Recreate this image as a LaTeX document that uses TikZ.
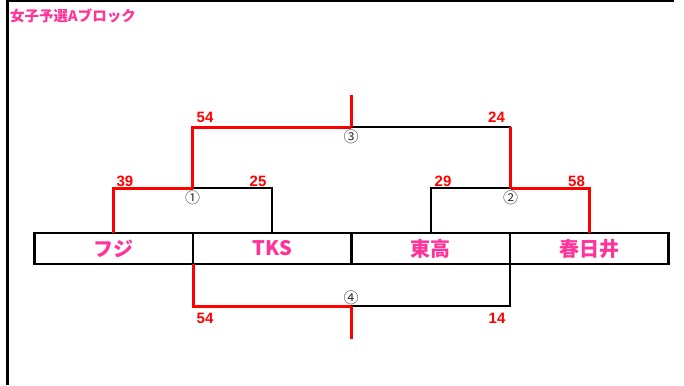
\documentclass[tikz,border=0pt]{standalone}
\usepackage{fontspec}
\setmainfont{Liberation Sans}
\newfontfamily\jp{Noto Sans CJK JP}
\definecolor{pinktext}{HTML}{FF3399}
\definecolor{winred}{HTML}{FF0000}
\tikzset{
  cell/.style={draw=black, line width=2.5pt, minimum width=158.5pt, minimum height=31pt, inner sep=0pt, outer sep=0pt, text=pinktext, font=\jp\bfseries\fontsize{20}{20}\selectfont},
  win/.style={draw=winred, line width=3pt},
  lose/.style={draw=black, line width=1.8pt},
  loseth/.style={draw=black, line width=1.2pt},
  score/.style={text=winred, font=\bfseries\fontsize{15}{15}\selectfont, inner sep=0pt},
  circnum/.style={text=black!80, font=\jp\fontsize{15}{15}\selectfont, inner sep=0pt},
  frame/.style={draw=black, line width=3pt}
}
\begin{document}
\begin{tikzpicture}[x=1pt,y=-1pt]
\useasboundingbox (0,0) rectangle (684,385);
% frame
\draw[frame] (7,0) -- (7,385);
\draw[frame] (5.5,1) -- (674,1);
% title
\node[anchor=west, text=pinktext, inner sep=0pt, font=\jp\bfseries\fontsize{14.5}{14.5}\selectfont] (title) at (10,16) {女子予選Aブロック};
% team cells
\node[cell] (c1) at (113.75,248.5) {フジ};
\node[cell] (c2) at (272.25,248.5) {TKS};
\node[cell] (c3) at (430.75,248.5) {東高};
\node[cell] (c4) at (589.25,248.5) {春日井};
% junction coordinates
\coordinate (m1) at (192.5,188);
\coordinate (m2) at (510.5,188);
\coordinate (m3L) at (192.5,127);
\coordinate (m3) at (351,127);
\coordinate (m3R) at (510.5,127);
\coordinate (top) at (351,95);
\coordinate (m4) at (351,306);
\coordinate (bot) at (351,339);
% match 1
\draw[lose] (m1) -| (c2.north);
\draw[win] (c1.north) |- (m1);
% match 2
\draw[lose] (c3.north) |- (m2);
\draw[win] (m2) -| (c4.north);
% match 3
\draw[loseth] (m3) -- (m3R);
\draw[win] (m3R) -- (m2);
\draw[win] (m1) -- (m3L) -- (m3);
\draw[win] (m3) -- (top);
% match 4
\draw[lose] (c4.south west) |- (m4);
\draw[win] (c2.south west) |- (m4);
\draw[win] (m4) -- (bot);
% circled match numbers
\node[circnum] (n1) at (192.5,198) {①};
\node[circnum] (n2) at (510.5,198) {②};
\node[circnum] (n3) at (351,137) {③};
\node[circnum] (n4) at (351,297.5) {④};
% scores
\node[score] (s1a) at (125,181) {39};
\node[score] (s1b) at (258,181) {25};
\node[score] (s2a) at (443,181) {29};
\node[score] (s2b) at (576.5,181) {58};
\node[score] (s3a) at (205,117.5) {54};
\node[score] (s3b) at (496.5,117.5) {24};
\node[score] (s4a) at (205,318.5) {54};
\node[score] (s4b) at (497,318.5) {14};
\end{tikzpicture}
\end{document}
